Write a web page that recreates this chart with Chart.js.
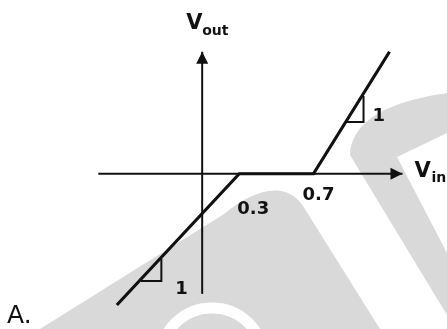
<!DOCTYPE html>
<html>
<head>
    <meta charset="UTF-8">
    <title>Vout vs Vin</title>
    <script src="https://cdn.jsdelivr.net/npm/chart.js"></script>
    <style>
        body { margin: 0; background: #fff; }
        canvas { display: block; }
    </style>
</head>
<body>
    <canvas id="transferChart" width="447" height="329"></canvas>

    <script>
        // Characteristic curve Vout(Vin)
        const vinPoints = [-0.36, 0.3, 0.7, 1.11];
        const voutPoints = [-0.71, 0, 0, 0.66];
        const breakLabels = ['0.3', '0.7'];

        // Axes (Vin axis and Vout axis) in the same units
        const vinAxisX = [-0.46, 1.18];
        const voutAxisX = 0.1;
        const voutAxisY = [-0.65, 0.66];

        // Slope triangles
        const slopeUpperX = [0.87, 0.97, 0.97];
        const slopeUpperY = [0.28, 0.28, 0.42];
        const slopeLowerX = [-0.23, -0.12, -0.12];
        const slopeLowerY = [-0.58, -0.58, -0.46];
        const slopeLabel = '1';

        function toPoints(xs, ys) {
            return xs.map((x, i) => ({ x: x, y: ys[i] }));
        }

        const ink = '#111111';

        // Light grey watermark behind the drawing
        const watermark = {
            id: 'watermark',
            beforeDraw(chart) {
                const ctx = chart.ctx;
                ctx.save();
                ctx.fillStyle = '#d9d9d9';
                ctx.beginPath();
                ctx.moveTo(40, 329);
                ctx.lineTo(224, 214);
                ctx.bezierCurveTo(250, 192, 285, 178, 303, 206);
                ctx.lineTo(380, 329);
                ctx.closePath();
                ctx.fill();

                ctx.beginPath();
                ctx.moveTo(447, 93);
                ctx.bezierCurveTo(400, 100, 352, 115, 350, 155);
                ctx.lineTo(447, 315);
                ctx.lineTo(447, 253);
                ctx.lineTo(397, 157);
                ctx.lineTo(447, 133);
                ctx.closePath();
                ctx.fill();

                ctx.strokeStyle = '#ffffff';
                ctx.lineWidth = 11;
                ctx.beginPath();
                ctx.arc(212, 360, 52, 0, Math.PI * 2);
                ctx.stroke();
                ctx.restore();
            }
        };

        // Arrow heads and text labels
        const annotations = {
            id: 'annotations',
            afterDatasetsDraw(chart) {
                const ctx = chart.ctx;
                const xs = chart.scales.x, ys = chart.scales.y;
                ctx.save();
                ctx.fillStyle = ink;

                // arrow on Vout axis
                const tx = xs.getPixelForValue(voutAxisX);
                const ty = ys.getPixelForValue(voutAxisY[1]);
                ctx.beginPath();
                ctx.moveTo(tx, ty);
                ctx.lineTo(tx - 6, ty + 12);
                ctx.lineTo(tx + 6, ty + 12);
                ctx.closePath();
                ctx.fill();

                // arrow on Vin axis
                const rx = xs.getPixelForValue(vinAxisX[1]);
                const ry = ys.getPixelForValue(0);
                ctx.beginPath();
                ctx.moveTo(rx, ry);
                ctx.lineTo(rx - 12, ry - 6);
                ctx.lineTo(rx - 12, ry + 6);
                ctx.closePath();
                ctx.fill();

                // axis titles
                ctx.textBaseline = 'alphabetic';
                ctx.textAlign = 'left';
                ctx.font = 'bold 21px "DejaVu Sans"';
                ctx.fillText('V', tx - 16, ty - 23);
                ctx.font = 'bold 14px "DejaVu Sans"';
                ctx.fillText('out', tx, ty - 17);

                ctx.font = 'bold 21px "DejaVu Sans"';
                ctx.fillText('V', rx + 12, ry + 3);
                ctx.font = 'bold 14px "DejaVu Sans"';
                ctx.fillText('in', rx + 29, ry + 8);

                // breakpoint labels
                ctx.textAlign = 'center';
                ctx.font = 'bold 18px "DejaVu Sans"';
                const b1 = xs.getPixelForValue(vinPoints[1]);
                const b2 = xs.getPixelForValue(vinPoints[2]);
                ctx.fillText(breakLabels[0], b1 + 14, ry + 40);
                ctx.fillText(breakLabels[1], b2 + 5, ry + 26);

                // slope labels
                ctx.textAlign = 'left';
                ctx.fillText(slopeLabel, xs.getPixelForValue(slopeUpperX[1]) + 9,
                    ys.getPixelForValue(slopeUpperY[0]) - 1);
                ctx.fillText(slopeLabel, xs.getPixelForValue(slopeLowerX[1]) + 14,
                    ys.getPixelForValue(slopeLowerY[0]) + 13);

                // option letter
                ctx.font = '25px "DejaVu Sans"';
                ctx.fillText('A.', 7, 323);
                ctx.restore();
            }
        };

        const lineSet = (data, width) => ({
            data: data,
            showLine: true,
            borderColor: ink,
            borderWidth: width,
            pointRadius: 0,
            fill: false,
            tension: 0
        });

        new Chart(document.getElementById('transferChart'), {
            type: 'scatter',
            data: {
                datasets: [
                    lineSet(toPoints(vinAxisX, [0, 0]), 2),
                    lineSet(toPoints([voutAxisX, voutAxisX], voutAxisY), 2),
                    lineSet(toPoints(vinPoints, voutPoints), 3.2),
                    lineSet(toPoints(slopeUpperX, slopeUpperY), 2),
                    lineSet(toPoints(slopeLowerX, slopeLowerY), 2)
                ]
            },
            options: {
                responsive: false,
                animation: false,
                layout: { padding: 0 },
                scales: {
                    x: { type: 'linear', min: -0.99, max: 1.42, display: false },
                    y: { type: 'linear', min: -0.84, max: 0.94, display: false }
                },
                plugins: {
                    legend: { display: false },
                    tooltip: { enabled: false }
                }
            },
            plugins: [watermark, annotations]
        });
    </script>
</body>
</html>
